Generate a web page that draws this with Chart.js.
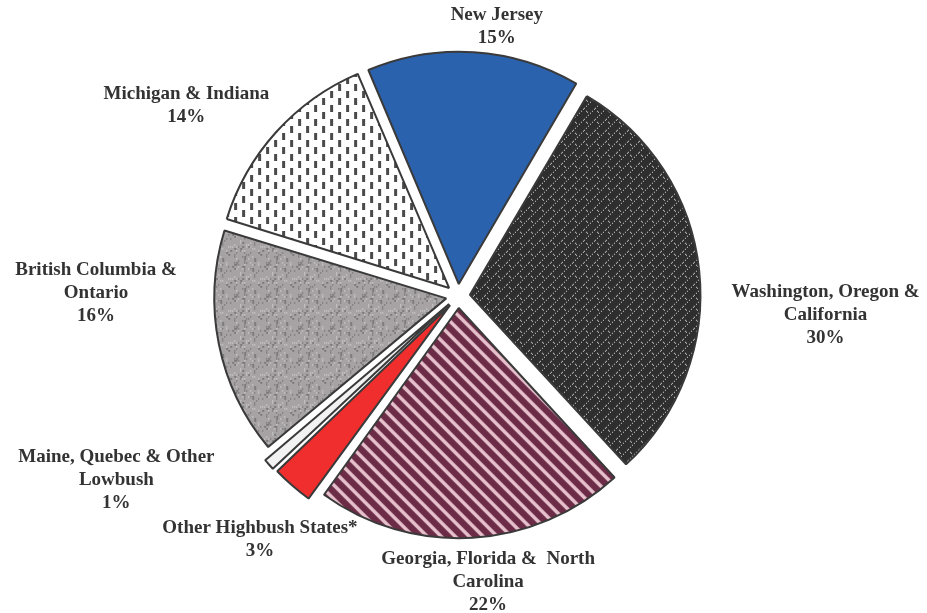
<!DOCTYPE html>
<html>
<head>
<meta charset="utf-8">
<script src="https://cdn.jsdelivr.net/npm/chart.js@4"></script>
<style>
    body { margin: 0; background: #fff; }
    #wrap { width: 927px; height: 613px; }
</style>
</head>
<body>
<div id="wrap"><canvas id="shareChart" width="927" height="613"></canvas></div>
<script>
// data
const regions = [
    'New Jersey',
    'Washington, Oregon &\nCalifornia',
    'Georgia, Florida &  North\nCarolina',
    'Other Highbush States*',
    'Maine, Quebec & Other\nLowbush',
    'British Columbia &\nOntario',
    'Michigan & Indiana'
];
const shares = [15, 30, 22, 3, 1, 16, 14];

// label placement: angle (deg, clockwise from top) and distance from pie centre
const labelAngle = [8.2, 92.9, 174, 219.1, 241.7, 270.5, 305.1];
const labelDist = [272, 368, 288, 314, 388, 362, 332];

function makePattern(w, h, paint) {
    const c = document.createElement('canvas');
    c.width = w;
    c.height = h;
    const g = c.getContext('2d');
    paint(g, w, h);
    return g.createPattern(c, 'repeat');
}

function hash(i, j) {
    const s = Math.sin(i * 127.1 + j * 311.7) * 43758.5453;
    return s - Math.floor(s);
}

document.addEventListener('DOMContentLoaded', function () {
    const ctx = document.getElementById('shareChart').getContext('2d');

    // Washington: dark with dotted white lattice
    const lattice = makePattern(11, 11, function (g, w, h) {
        g.fillStyle = '#2e2e2e';
        g.fillRect(0, 0, w, h);
        g.fillStyle = '#d8d8d8';
        for (let k = 0; k < w; k += 2) {
            g.fillRect(k, h - 1 - k, 1, 1);
        }
        g.fillRect(2, 2, 1, 1);
        g.fillRect(3, 3, 1, 1);
    });

    // Georgia: maroon with pale diagonal stripes
    const stripes = makePattern(14, 14, function (g, w, h) {
        g.fillStyle = '#6c2b46';
        g.fillRect(0, 0, w, h);
        g.strokeStyle = '#e6c0cc';
        g.lineWidth = 3.5;
        g.beginPath();
        g.moveTo(-2, -2); g.lineTo(w + 2, h + 2);
        g.moveTo(-3, h - 3); g.lineTo(3, h + 3);
        g.moveTo(w - 3, -3); g.lineTo(w + 3, 3);
        g.stroke();
    });

    // British Columbia: grey speckle
    const speckle = makePattern(32, 32, function (g, w, h) {
        g.fillStyle = '#a7a3a4';
        g.fillRect(0, 0, w, h);
        for (let i = 0; i < w; i += 2) {
            for (let j = 0; j < h; j += 2) {
                const v = hash(i, j);
                if (v < 0.2) {
                    g.fillStyle = '#545454';
                    g.fillRect(i, j, 1 + (v < 0.08 ? 1 : 0), 1);
                } else if (v > 0.86) {
                    g.fillStyle = '#e6e4e4';
                    g.fillRect(i, j, 1, 1);
                }
            }
        }
    });

    // Michigan: white with vertical dashes
    const dashes = makePattern(16, 14, function (g, w, h) {
        g.fillStyle = '#ffffff';
        g.fillRect(0, 0, w, h);
        g.fillStyle = '#4a4a4a';
        g.fillRect(3, 1, 3, 7);
        g.fillRect(11, 8, 3, 6);
        g.fillRect(11, 0, 3, 1);
    });

    const fills = ['#2b62ae', lattice, stripes, '#f02e2e', '#f2f2f2', speckle, dashes];

    const sliceLabels = {
        id: 'sliceLabels',
        afterDatasetsDraw(chart) {
            const c = chart.ctx;
            const arcs = chart.getDatasetMeta(0).data;
            c.save();
            c.font = 'bold 19px "Liberation Serif", "Times New Roman", serif';
            c.fillStyle = '#333333';
            c.textAlign = 'center';
            c.textBaseline = 'middle';
            arcs.forEach(function (arc, i) {
                const a = (labelAngle[i] - 90) * Math.PI / 180;
                const x = arc.x + Math.cos(a) * labelDist[i];
                const y = arc.y + Math.sin(a) * labelDist[i];
                const lines = regions[i].split('\n');
                lines.push(shares[i] + '%');
                const lh = 23;
                const top = y - (lines.length - 1) * lh / 2;
                lines.forEach(function (t, k) {
                    c.fillText(t, x, top + k * lh);
                });
            });
            c.restore();
        }
    };

    new Chart(ctx, {
        type: 'pie',
        data: {
            labels: regions,
            datasets: [{
                data: shares,
                backgroundColor: fills,
                borderColor: '#3a3a3a',
                borderWidth: 2,
                offset: 48,
                hoverOffset: 0
            }]
        },
        options: {
            responsive: false,
            animation: false,
            radius: 230,
            rotation: -23,
            layout: { padding: { left: 0, right: 11, top: 0, bottom: 21 } },
            plugins: {
                legend: { display: false },
                tooltip: { enabled: false }
            },
            events: []
        },
        plugins: [sliceLabels]
    });
});
</script>
</body>
</html>
